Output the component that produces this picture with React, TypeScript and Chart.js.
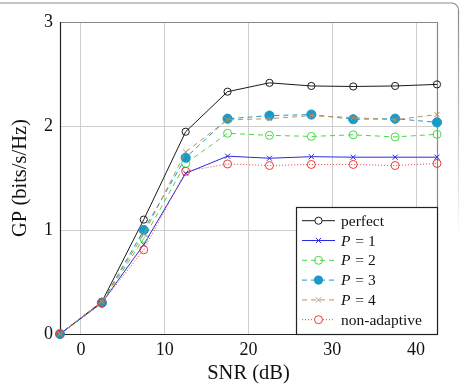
import React, { useEffect, useRef } from "react";
import { Chart, registerables } from "chart.js";

Chart.register(...registerables);

// SNR sample points (dB)
const snr = [-2.5, 2.5, 7.5, 12.5, 17.5, 22.5, 27.5, 32.5, 37.5, 42.5];

// Goodput (bits/s/Hz) per scheme
const perfect = [0, 0.31, 1.1, 1.945, 2.33, 2.415, 2.385, 2.38, 2.385, 2.4];
const p1 = [0, 0.3, 0.86, 1.545, 1.71, 1.69, 1.705, 1.7, 1.7, 1.7];
const p2 = [0, 0.3, 0.92, 1.64, 1.93, 1.91, 1.9, 1.915, 1.895, 1.92];
const p3 = [0, 0.3, 1.0, 1.695, 2.07, 2.1, 2.11, 2.065, 2.07, 2.035];
const p4 = [0, 0.31, 0.96, 1.75, 2.06, 2.07, 2.1, 2.08, 2.06, 2.11];
const nonAdaptive = [0, 0.3, 0.81, 1.565, 1.635, 1.62, 1.63, 1.63, 1.62, 1.64];

const xTicks = [0, 10, 20, 30, 40];
const yTicks = [0, 1, 2, 3];

const SERIF = "'Liberation Serif', 'Times New Roman', serif";

type Entry = {
  label: string;
  italicP?: string; // "P = n" labels: italic P followed by the rest
  data: number[];
  color: string;
  dash: number[];
  point: "circle" | "crossRot";
  radius: number;
  filled: boolean;
};

const series: Entry[] = [
  { label: "perfect", data: perfect, color: "#1a1a1a", dash: [], point: "circle", radius: 3.6, filled: false },
  { label: "P = 1", italicP: " = 1", data: p1, color: "#2a2ae0", dash: [], point: "crossRot", radius: 3.6, filled: false },
  { label: "P = 2", italicP: " = 2", data: p2, color: "#46d846", dash: [5, 4], point: "circle", radius: 4, filled: false },
  { label: "P = 3", italicP: " = 3", data: p3, color: "#1a9ac6", dash: [5, 4], point: "circle", radius: 4.6, filled: true },
  { label: "P = 4", italicP: " = 4", data: p4, color: "#c09058", dash: [5, 4], point: "crossRot", radius: 3.6, filled: false },
  { label: "non-adaptive", data: nonAdaptive, color: "#e63a3a", dash: [1, 2], point: "circle", radius: 4, filled: false },
];

// Plot box and outer frame
const frameBox = {
  id: "frameBox",
  beforeDatasetsDraw(chart: any) {
    const { ctx, chartArea: a } = chart;
    ctx.save();
    ctx.lineWidth = 1.2;
    ctx.strokeStyle = "#888888";
    ctx.beginPath();
    ctx.moveTo(a.left, a.top + 0.5);
    ctx.lineTo(a.right + 0.5, a.top + 0.5);
    ctx.lineTo(a.right + 0.5, a.bottom);
    ctx.stroke();
    ctx.strokeStyle = "#222222";
    ctx.beginPath();
    ctx.moveTo(a.left + 0.5, a.top);
    ctx.lineTo(a.left + 0.5, a.bottom + 0.5);
    ctx.lineTo(a.right + 1, a.bottom + 0.5);
    ctx.stroke();
    ctx.restore();
  },
  afterDraw(chart: any) {
    const { ctx, width } = chart;
    ctx.save();
    ctx.lineWidth = 1.2;
    ctx.strokeStyle = "#8a8a8a";
    const r = 7;
    const x = width - 1.5;
    const y = 3;
    ctx.beginPath();
    ctx.moveTo(0, y);
    ctx.lineTo(x - r, y);
    ctx.arcTo(x, y, x, y + r, r);
    ctx.stroke();
    const g = ctx.createLinearGradient(0, y + r, 0, 240);
    g.addColorStop(0, "rgba(138,138,138,1)");
    g.addColorStop(1, "rgba(138,138,138,0)");
    ctx.strokeStyle = g;
    ctx.beginPath();
    ctx.moveTo(x, y + r);
    ctx.lineTo(x, 240);
    ctx.stroke();
    ctx.restore();
  },
};

// Legend box in the lower right corner of the plot
const legendBox = {
  id: "legendBox",
  afterDatasetsDraw(chart: any) {
    const { ctx, chartArea: a } = chart;
    const left = 296.5;
    const right = a.right + 0.5;
    const top = 207.5;
    const bottom = a.bottom + 0.5;
    ctx.save();
    ctx.fillStyle = "#ffffff";
    ctx.fillRect(left, top, right - left, bottom - top);
    ctx.lineWidth = 1.2;
    ctx.strokeStyle = "#222222";
    ctx.strokeRect(left, top, right - left, bottom - top);
    const x0 = 302;
    const x1 = 335;
    const xm = (x0 + x1) / 2;
    series.forEach((s, i) => {
      const cy = 220.7 + i * 19.8;
      ctx.strokeStyle = s.color;
      ctx.lineWidth = 1;
      ctx.setLineDash(s.dash);
      ctx.beginPath();
      ctx.moveTo(x0, cy);
      ctx.lineTo(x1, cy);
      ctx.stroke();
      ctx.setLineDash([]);
      ctx.lineWidth = 1;
      if (s.point === "circle") {
        ctx.beginPath();
        ctx.arc(xm, cy, s.radius, 0, Math.PI * 2);
        if (s.filled) {
          ctx.fillStyle = s.color;
          ctx.fill();
        } else {
          ctx.fillStyle = "#ffffff";
          if (s.label === "perfect" || s.label === "non-adaptive") ctx.fill();
          ctx.stroke();
        }
      } else {
        const d = s.radius * 0.707;
        ctx.beginPath();
        ctx.moveTo(xm - d, cy - d);
        ctx.lineTo(xm + d, cy + d);
        ctx.moveTo(xm - d, cy + d);
        ctx.lineTo(xm + d, cy - d);
        ctx.stroke();
      }
      ctx.fillStyle = "#111111";
      ctx.textBaseline = "middle";
      ctx.textAlign = "left";
      if (s.italicP) {
        ctx.font = `italic 15.5px ${SERIF}`;
        ctx.fillText("P", 341, cy + 1);
        const w = ctx.measureText("P").width;
        ctx.font = `15.5px ${SERIF}`;
        ctx.fillText(s.italicP, 341 + w + 1, cy + 1);
      } else {
        ctx.font = `15.5px ${SERIF}`;
        ctx.fillText(s.label, 341, cy + 1);
      }
    });
    ctx.restore();
  },
};

export default function App() {
  const ref = useRef<HTMLCanvasElement | null>(null);

  useEffect(() => {
    if (!ref.current) return;
    const n = series.length;
    const chart = new Chart(ref.current, {
      type: "line",
      data: {
        datasets: series.map((s, i) => ({
          label: s.label,
          data: snr.map((x, k) => ({ x, y: s.data[k] })),
          borderColor: s.color,
          borderWidth: 1,
          borderDash: s.dash,
          backgroundColor: s.color,
          pointStyle: s.point,
          pointRadius: s.radius,
          pointBorderWidth: 1,
          pointBorderColor: s.color,
          pointBackgroundColor: s.filled ? s.color : "rgba(0,0,0,0)",
          tension: 0,
          fill: false,
          clip: false as any,
          order: n - i,
        })),
      },
      options: {
        animation: false,
        responsive: false,
        events: [],
        layout: { padding: { top: 22, right: 23, left: 0, bottom: 0 } },
        plugins: { legend: { display: false }, tooltip: { enabled: false } },
        scales: {
          x: {
            type: "linear",
            min: -2.5,
            max: 42.5,
            afterBuildTicks: (axis: any) => {
              axis.ticks = xTicks.map((v) => ({ value: v }));
            },
            afterFit: (axis: any) => {
              axis.height = 50;
            },
            grid: { color: "#cfcfcf", lineWidth: 1, drawTicks: false },
            border: { display: false },
            ticks: {
              color: "#111111",
              padding: 5,
              font: { family: SERIF, size: 18 },
              callback: (v: any) => String(v),
            },
            title: {
              display: true,
              text: "SNR (dB)",
              color: "#111111",
              font: { family: SERIF, size: 20.5, lineHeight: 1 },
              padding: { top: 0, bottom: 0 },
            },
          },
          y: {
            type: "linear",
            min: 0,
            max: 3,
            afterBuildTicks: (axis: any) => {
              axis.ticks = yTicks.map((v) => ({ value: v }));
            },
            afterFit: (axis: any) => {
              axis.width = 60;
            },
            grid: { color: "#cfcfcf", lineWidth: 1, drawTicks: false },
            border: { display: false },
            ticks: {
              color: "#111111",
              padding: 7,
              font: { family: SERIF, size: 18 },
              callback: (v: any) => String(v),
            },
            title: {
              display: true,
              text: "GP (bits/s/Hz)",
              color: "#111111",
              font: { family: SERIF, size: 20.5, lineHeight: 1 },
              padding: { top: 10, bottom: 0 },
            },
          },
        },
      },
      plugins: [frameBox, legendBox],
    });
    return () => chart.destroy();
  }, []);

  return (
    <div style={{ position: "fixed", left: 0, top: 0, width: 460, height: 384, background: "#ffffff" }}>
      <canvas ref={ref} width={460} height={384} style={{ display: "block" }} />
    </div>
  );
}
